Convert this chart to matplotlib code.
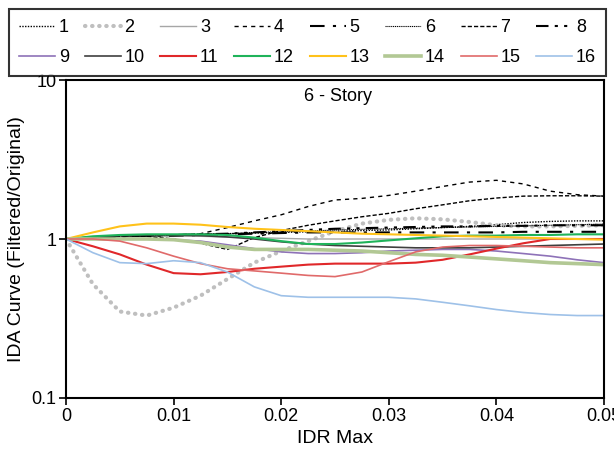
import numpy as np
import matplotlib
matplotlib.use('Agg')
import matplotlib.pyplot as plt

plt.rcParams['font.family'] = ['Liberation Sans', 'DejaVu Sans']

# IDR Max grid
idr = [0, 0.0025, 0.005, 0.0075, 0.01, 0.0125, 0.015, 0.0175, 0.02, 0.0225, 0.025,
       0.0275, 0.03, 0.0325, 0.035, 0.0375, 0.04, 0.0425, 0.045, 0.0475, 0.05]

# IDA curve ratios (filtered/original), one list per record
s1 = [1, 1.02, 1.04, 1.05, 1.06, 1.07, 1.08, 1.09, 1.10, 1.11, 1.12,
      1.13, 1.14, 1.16, 1.18, 1.20, 1.23, 1.27, 1.29, 1.30, 1.30]
s2 = [1, 0.52, 0.35, 0.33, 0.37, 0.44, 0.56, 0.71, 0.84, 0.97, 1.12,
      1.25, 1.32, 1.35, 1.33, 1.28, 1.22, 1.20, 1.20, 1.21, 1.22]
s3 = [1, 1.02, 1.03, 1.04, 1.04, 1.04, 1.03, 1.02, 1.01, 1.00, 1.00,
      1.00, 1.00, 1.00, 1.00, 1.00, 1.00, 1.00, 1.00, 1.00, 1.00]
s4 = [1, 1.02, 1.04, 1.05, 1.06, 1.08, 1.18, 1.30, 1.42, 1.60, 1.76,
      1.80, 1.88, 2.00, 2.14, 2.28, 2.34, 2.22, 2.00, 1.90, 1.86]
s5 = [1, 1.02, 1.04, 1.05, 1.05, 1.06, 1.07, 1.08, 1.09, 1.10, 1.10,
      1.10, 1.10, 1.10, 1.10, 1.10, 1.10, 1.11, 1.11, 1.11, 1.11]
s6 = [1, 1.02, 1.04, 1.05, 1.06, 1.07, 1.08, 1.10, 1.11, 1.12, 1.14,
      1.15, 1.16, 1.17, 1.18, 1.19, 1.20, 1.21, 1.22, 1.23, 1.24]
s7 = [1, 1.03, 1.05, 1.04, 1.00, 0.94, 0.86, 1.02, 1.13, 1.22, 1.30,
      1.38, 1.45, 1.55, 1.64, 1.74, 1.81, 1.86, 1.87, 1.87, 1.86]
s8 = [1, 1.02, 1.04, 1.05, 1.06, 1.07, 1.08, 1.10, 1.12, 1.14, 1.16,
      1.17, 1.18, 1.19, 1.20, 1.20, 1.21, 1.21, 1.22, 1.22, 1.22]
s9 = [1, 1.00, 1.00, 1.00, 0.99, 0.97, 0.92, 0.87, 0.83, 0.81, 0.81,
      0.82, 0.84, 0.85, 0.86, 0.86, 0.84, 0.81, 0.78, 0.74, 0.71]
s10 = [1, 1.03, 1.05, 1.06, 1.06, 1.05, 1.03, 1.00, 0.96, 0.93, 0.91,
       0.90, 0.89, 0.88, 0.88, 0.88, 0.89, 0.90, 0.91, 0.92, 0.93]
s11 = [1, 0.90, 0.80, 0.69, 0.61, 0.60, 0.62, 0.65, 0.67, 0.69, 0.70,
       0.70, 0.70, 0.71, 0.74, 0.80, 0.87, 0.94, 1.00, 1.00, 1.00]
s12 = [1, 1.04, 1.06, 1.07, 1.07, 1.07, 1.06, 1.02, 0.97, 0.93, 0.93,
       0.95, 0.98, 1.01, 1.04, 1.05, 1.05, 1.06, 1.06, 1.07, 1.07]
s13 = [1, 1.10, 1.20, 1.25, 1.25, 1.23, 1.19, 1.16, 1.14, 1.12, 1.10,
       1.08, 1.07, 1.06, 1.05, 1.04, 1.03, 1.02, 1.01, 1.00, 0.99]
s14 = [1, 1.00, 1.00, 1.00, 0.99, 0.95, 0.89, 0.86, 0.86, 0.86, 0.85,
       0.84, 0.82, 0.80, 0.79, 0.77, 0.75, 0.73, 0.71, 0.70, 0.69]
s15 = [1, 1.00, 0.97, 0.88, 0.78, 0.70, 0.65, 0.63, 0.61, 0.59, 0.58,
       0.62, 0.72, 0.83, 0.89, 0.91, 0.91, 0.90, 0.89, 0.88, 0.88]
s16 = [1, 0.82, 0.71, 0.70, 0.73, 0.71, 0.62, 0.50, 0.44, 0.43, 0.43,
       0.43, 0.43, 0.42, 0.40, 0.38, 0.36, 0.345, 0.335, 0.33, 0.33]

series = [s1, s2, s3, s4, s5, s6, s7, s8, s9, s10, s11, s12, s13, s14, s15, s16]
labels = [str(i) for i in range(1, 17)]

# estilos de linea
styles = [
    dict(color='black', lw=1.0, ls=(0, (1, 1))),
    dict(color='#bfbfbf', lw=3.0, ls=(0, (0.1, 1.6)), dash_capstyle='round'),
    dict(color='#a6a6a6', lw=1.0, ls='-'),
    dict(color='black', lw=1.0, ls=(0, (3, 3))),
    dict(color='black', lw=1.5, ls=(0, (7, 4, 1.5, 4))),
    dict(color='black', lw=0.8, ls=(0, (1, 0.7))),
    dict(color='black', lw=1.0, ls=(0, (3, 1.5))),
    dict(color='black', lw=1.5, ls=(0, (6, 3, 1.5, 3, 1.5, 3))),
    dict(color='#8e72b8', lw=1.2, ls='-'),
    dict(color='#3f3f3f', lw=1.2, ls='-'),
    dict(color='#e0282a', lw=1.5, ls='-'),
    dict(color='#1fb35a', lw=1.5, ls='-'),
    dict(color='#ffc21a', lw=1.5, ls='-'),
    dict(color='#b2c894', lw=2.6, ls='-'),
    dict(color='#e06a6a', lw=1.2, ls='-'),
    dict(color='#9ec1e8', lw=1.2, ls='-'),
]

fig = plt.figure(figsize=(6.14, 4.63), dpi=100)
ax = fig.add_axes([0.1075, 0.1404, 0.8762, 0.6868])

lines = []
for y, lab, st in zip(series, labels, styles):
    l, = ax.plot(idr, y, label=lab, **st)
    lines.append(l)

ax.set_yscale('log')
ax.set_xlim(0, 0.05)
ax.set_ylim(0.1, 10)
ax.set_yticks([0.1, 1, 10])
ax.set_yticklabels(['0.1', '1', '10'])
ax.yaxis.set_minor_locator(matplotlib.ticker.NullLocator())
ax.set_xticks([0, 0.01, 0.02, 0.03, 0.04, 0.05])
ax.set_xticklabels(['0', '0.01', '0.02', '0.03', '0.04', '0.05'])
ax.tick_params(direction='out', length=5, width=1.2, labelsize=13, pad=2)
for sp in ax.spines.values():
    sp.set_linewidth(1.5)

ax.text(0.505, 0.975, '6 - Story', transform=ax.transAxes, ha='center', va='top', fontsize=13)
ax.set_xlabel('IDR Max', fontsize=14)
ax.set_ylabel('IDA Curve (Filtered/Original)', fontsize=14)
ax.xaxis.set_label_coords(0.5, -0.1)
ax.yaxis.set_label_coords(-0.076, 0.5)

# legend filled row by row (1-8 arriba, 9-16 abajo)
order = [i + 8 * r for i in range(8) for r in range(2)]
leg = fig.legend([lines[k] for k in order], [labels[k] for k in order],
                 loc='lower left', bbox_to_anchor=(0.0147, 0.836, 0.972, 0.14),
                 mode='expand', ncol=8, fontsize=13, frameon=True, fancybox=False,
                 handlelength=2.0, handletextpad=0.2, columnspacing=0.5,
                 borderpad=0.55, labelspacing=0.7, borderaxespad=0)
leg.get_frame().set_edgecolor('black')
leg.get_frame().set_linewidth(1.5)

fig.savefig('out.png', dpi=100)
